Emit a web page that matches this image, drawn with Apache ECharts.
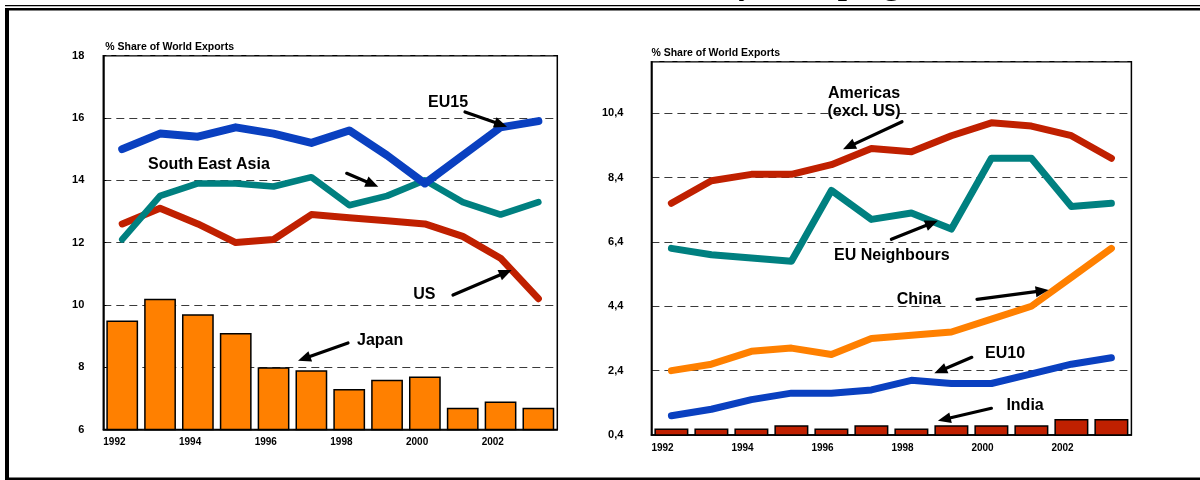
<!DOCTYPE html>
<html>
<head>
<meta charset="utf-8">
<script src="https://cdn.jsdelivr.net/npm/echarts@6/dist/echarts.min.js"></script>
<style>
  html, body { margin: 0; padding: 0; background: #fff; }
  #chart { width: 1200px; height: 480px; }
</style>
</head>
<body>
<div id="chart"></div>
<script>
// Years shown on both panels
const years = ['1992','1993','1994','1995','1996','1997','1998','1999','2000','2001','2002','2003'];

// Left panel: % share of world exports
const eu15          = [15.0, 15.5, 15.4, 15.7, 15.5, 15.2, 15.6, 14.8, 13.9, 14.8, 15.7, 15.9];
const southEastAsia = [12.1, 13.5, 13.9, 13.9, 13.8, 14.1, 13.2, 13.5, 14.0, 13.3, 12.9, 13.3];
const us            = [12.6, 13.1, 12.6, 12.0, 12.1, 12.9, 12.8, 12.7, 12.6, 12.2, 11.5, 10.2];
const japan         = [9.5, 10.2, 9.7, 9.1, 8.0, 7.9, 7.3, 7.6, 7.7, 6.7, 6.9, 6.7];

// Right panel: % share of world exports
const americasExUS  = [7.6, 8.3, 8.5, 8.5, 8.8, 9.3, 9.2, 9.7, 10.1, 10.0, 9.7, 9.0];
const euNeighbours  = [6.2, 6.0, 5.9, 5.8, 8.0, 7.1, 7.3, 6.8, 9.0, 9.0, 7.5, 7.6];
const china         = [2.4, 2.6, 3.0, 3.1, 2.9, 3.4, 3.5, 3.6, 4.0, 4.4, 5.3, 6.2];
const eu10          = [1.0, 1.2, 1.5, 1.7, 1.7, 1.8, 2.1, 2.0, 2.0, 2.3, 2.6, 2.8];
const india         = [0.6, 0.6, 0.6, 0.7, 0.6, 0.7, 0.6, 0.7, 0.7, 0.7, 0.9, 0.9];

const axisTitle = '% Share of World Exports';
const SANS = '"Liberation Sans", Arial, sans-serif';

const BLUE = '#0a40c0', TEAL = '#008080', RED = '#c02000', ORANGE = '#ff8000';

const chart = echarts.init(document.getElementById('chart'), null, { renderer: 'canvas' });

function lineSeries(name, data, color, width, xi, yi, z) {
  return {
    name, type: 'line', data, xAxisIndex: xi, yAxisIndex: yi,
    symbol: 'none', z,
    lineStyle: { color, width, cap: 'round', join: 'round' },
    silent: true, animation: false
  };
}

function barSeries(name, data, color, xi, yi, gap) {
  return {
    name, type: 'bar', data, xAxisIndex: xi, yAxisIndex: yi,
    barCategoryGap: gap, z: 2,
    itemStyle: { color, borderColor: '#000', borderWidth: 1.5 },
    silent: true, animation: false
  };
}

// Arrow annotation: shaft plus filled head at (x2, y2)
function arrow(x1, y1, x2, y2) {
  const dx = x2 - x1, dy = y2 - y1, len = Math.hypot(dx, dy);
  const ux = dx / len, uy = dy / len;
  const hl = 13, hw = 5.5;
  const bx = x2 - ux * hl, by = y2 - uy * hl;
  return [
    { type: 'line', z: 50, silent: true,
      shape: { x1, y1, x2: bx + ux * 2, y2: by + uy * 2 },
      style: { stroke: '#000', lineWidth: 3.2, lineCap: 'round' } },
    { type: 'polygon', z: 50, silent: true,
      shape: { points: [[x2, y2], [bx - uy * hw, by + ux * hw], [bx + uy * hw, by - ux * hw]] },
      style: { fill: '#000' } }
  ];
}

function label(text, x, y) {
  return { type: 'text', z: 50, silent: true, x, y,
    style: { text, font: 'bold 16px ' + SANS, fill: '#000', align: 'left', verticalAlign: 'middle' } };
}

const gridBox = { show: true, borderColor: '#000', borderWidth: 1.5, backgroundColor: 'transparent' };
const splitDash = { show: true, lineStyle: { color: '#3a3a3a', width: 1, type: [8, 5] } };

// Year ticks every second year, labels starting at the left edge of their year
function yearLabelAxis(gridIndex) {
  return {
    type: 'value', gridIndex, position: 'bottom', min: 1992, max: 2004, interval: 2,
    axisLine: { show: false }, axisTick: { show: false }, splitLine: { show: false },
    axisLabel: { show: true, showMaxLabel: false, align: 'left', margin: 8,
      formatter: v => String(v),
      fontFamily: SANS, fontWeight: 'bold', fontSize: 10, color: '#000' }
  };
}

const option = {
  backgroundColor: '#fff',
  animation: false,
  grid: [
    Object.assign({ left: 103.3, top: 55.7, width: 454, height: 373.8 }, gridBox),
    Object.assign({ left: 651.4, top: 61.7, width: 480, height: 373.3 }, gridBox)
  ],
  xAxis: [
    { type: 'category', gridIndex: 0, data: years, boundaryGap: true,
      axisLine: { show: true, lineStyle: { color: '#000', width: 1.5 } },
      axisTick: { show: false }, axisLabel: { show: false } },
    yearLabelAxis(0),
    { type: 'category', gridIndex: 1, data: years, boundaryGap: true,
      axisLine: { show: true, lineStyle: { color: '#000', width: 1.5 } },
      axisTick: { show: false }, axisLabel: { show: false } },
    yearLabelAxis(1)
  ],
  yAxis: [
    { type: 'value', gridIndex: 0, min: 6, max: 18, interval: 2,
      name: axisTitle, nameLocation: 'end', nameGap: 9,
      nameTextStyle: { align: 'left', verticalAlign: 'middle', fontFamily: SANS, fontWeight: 'bold', fontSize: 10.5, color: '#000', padding: [0, 0, 0, 2] },
      axisLine: { show: true, lineStyle: { color: '#000', width: 1.5 } },
      axisTick: { show: true, inside: true, length: 3, lineStyle: { color: '#000' } },
      axisLabel: { margin: 19, fontFamily: SANS, fontWeight: 'bold', fontSize: 11, color: '#000' },
      splitLine: splitDash },
    { type: 'value', gridIndex: 1, min: 0.4, max: 12, interval: 2,
      name: axisTitle, nameLocation: 'end', nameGap: 9,
      nameTextStyle: { align: 'left', verticalAlign: 'middle', fontFamily: SANS, fontWeight: 'bold', fontSize: 10.5, color: '#000' },
      axisLine: { show: true, lineStyle: { color: '#000', width: 1.5 } },
      axisTick: { show: false },
      axisLabel: { margin: 28, showMaxLabel: false, fontFamily: SANS, fontWeight: 'bold', fontSize: 11, color: '#000',
        formatter: v => v.toFixed(1).replace('.', ',') },
      splitLine: splitDash }
  ],
  series: [
    barSeries('Japan', japan, ORANGE, 0, 0, '16%'),
    lineSeries('US', us, RED, 7, 0, 0, 3),
    lineSeries('South East Asia', southEastAsia, TEAL, 6.5, 0, 0, 4),
    lineSeries('EU15', eu15, BLUE, 8, 0, 0, 5),

    barSeries('India', india, RED, 2, 1, '15%'),
    lineSeries('EU10', eu10, BLUE, 7, 2, 1, 3),
    lineSeries('China', china, ORANGE, 7, 2, 1, 4),
    lineSeries('EU Neighbours', euNeighbours, TEAL, 7, 2, 1, 5),
    lineSeries('Americas (excl. US)', americasExUS, RED, 7, 2, 1, 6)
  ],
  graphic: [
    // page frame
    { type: 'rect', z: 60, silent: true, shape: { x: 5, y: 5, width: 1195, height: 1.3 }, style: { fill: '#000' } },
    { type: 'rect', z: 60, silent: true, shape: { x: 5, y: 8, width: 1195, height: 2.5 }, style: { fill: '#000' } },
    { type: 'rect', z: 60, silent: true, shape: { x: 5, y: 8, width: 4, height: 472 }, style: { fill: '#000' } },
    { type: 'rect', z: 60, silent: true, shape: { x: 5, y: 477.5, width: 1195, height: 2.5 }, style: { fill: '#000' } },
    // page heading, running above the frame
    { type: 'text', z: 60, silent: true, x: 900, y: -15,
      style: { text: 'World Market Shares by Grouping', font: 'bold 33px "Liberation Serif", "Times New Roman", serif',
        fill: '#000', align: 'right', verticalAlign: 'middle' } },

    // left panel annotations
    label('EU15', 428, 102.7),
    ...arrow(465, 112, 507, 126.7),
    label('South East Asia', 148, 164.3),
    ...arrow(346.7, 173.3, 378.3, 186.7),
    label('US', 413.3, 295),
    ...arrow(453, 295, 511.7, 270),
    label('Japan', 357, 341),
    ...arrow(348, 343, 298, 360.7),

    // right panel annotations
    { type: 'text', z: 50, silent: true, x: 864, y: 94,
      style: { text: 'Americas', font: 'bold 16px ' + SANS, fill: '#000', align: 'center', verticalAlign: 'middle' } },
    { type: 'text', z: 50, silent: true, x: 864, y: 111.7,
      style: { text: '(excl. US)', font: 'bold 16px ' + SANS, fill: '#000', align: 'center', verticalAlign: 'middle' } },
    ...arrow(902, 121.7, 843, 149.3),
    label('EU Neighbours', 834, 256),
    ...arrow(891.4, 239.3, 937.9, 220.7),
    label('China', 896.8, 299.3),
    ...arrow(977, 299.3, 1048.6, 290),
    label('EU10', 985, 354),
    ...arrow(971.8, 357.3, 934.3, 373.3),
    label('India', 1006.4, 406),
    ...arrow(991.4, 408.3, 937.9, 420.7)
  ]
};

chart.setOption(option);
</script>
</body>
</html>
